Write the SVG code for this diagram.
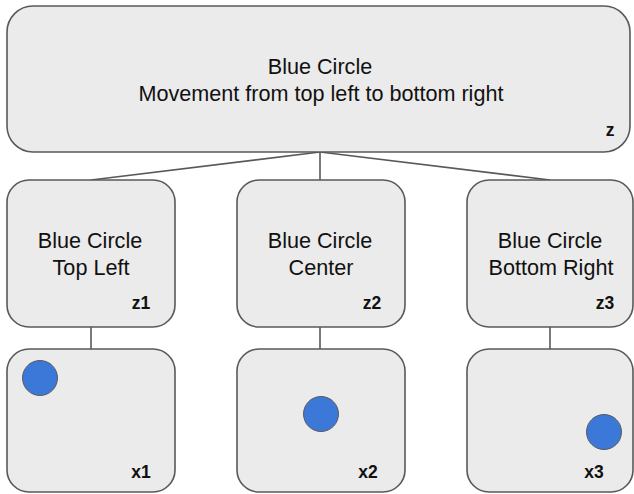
<svg xmlns="http://www.w3.org/2000/svg" width="634" height="494" viewBox="0 0 634 494">
<style>
.box{fill:#ebebeb;stroke:#595959;stroke-width:1.6}
.t{font-family:"Liberation Sans",Arial,sans-serif;font-size:21.6px;fill:#111;text-anchor:middle}
.l{font-family:"Liberation Sans",Arial,sans-serif;font-size:17.5px;font-weight:bold;fill:#111;text-anchor:middle}
.dot{fill:#3c78d8;stroke:#5a5a5a;stroke-width:1}
.c{stroke:#595959;stroke-width:1.6;fill:none}
</style>
<rect width="634" height="494" fill="#fff"/>
<g id="connectors">
<line class="c" x1="320" y1="152" x2="91" y2="180"/>
<line class="c" x1="320" y1="152" x2="320" y2="180"/>
<line class="c" x1="320" y1="152" x2="550" y2="180"/>
<line class="c" x1="91" y1="327" x2="91" y2="349"/>
<line class="c" x1="320" y1="327" x2="320" y2="349"/>
<line class="c" x1="550" y1="327" x2="550" y2="349"/>
</g>
<g id="z">
<rect class="box" x="7" y="6" width="623" height="146" rx="26"/>
<text class="t" x="320" y="74">Blue Circle</text>
<text class="t" x="321" y="101">Movement from top left to bottom right</text>
<text class="l" x="610" y="136">z</text>
</g>
<g id="z1">
<rect class="box" x="7" y="180" width="168" height="147" rx="22"/>
<text class="t" x="90" y="248">Blue Circle</text>
<text class="t" x="91" y="275">Top Left</text>
<text class="l" x="141" y="309">z1</text>
</g>
<g id="z2">
<rect class="box" x="237" y="180" width="168" height="147" rx="22"/>
<text class="t" x="320" y="248">Blue Circle</text>
<text class="t" x="321" y="275">Center</text>
<text class="l" x="372" y="309">z2</text>
</g>
<g id="z3">
<rect class="box" x="467" y="180" width="166" height="147" rx="22"/>
<text class="t" x="550" y="248">Blue Circle</text>
<text class="t" x="551" y="275">Bottom Right</text>
<text class="l" x="605" y="309">z3</text>
</g>
<g id="x1">
<rect class="box" x="7" y="349" width="168" height="143" rx="22"/>
<circle class="dot" cx="40" cy="378" r="17.5"/>
<text class="l" x="141" y="478">x1</text>
</g>
<g id="x2">
<rect class="box" x="237" y="349" width="168" height="143" rx="22"/>
<circle class="dot" cx="321" cy="414" r="17.5"/>
<text class="l" x="368" y="478">x2</text>
</g>
<g id="x3">
<rect class="box" x="467" y="349" width="166" height="143" rx="22"/>
<circle class="dot" cx="604" cy="432" r="17.5"/>
<text class="l" x="594" y="478">x3</text>
</g>
</svg>
